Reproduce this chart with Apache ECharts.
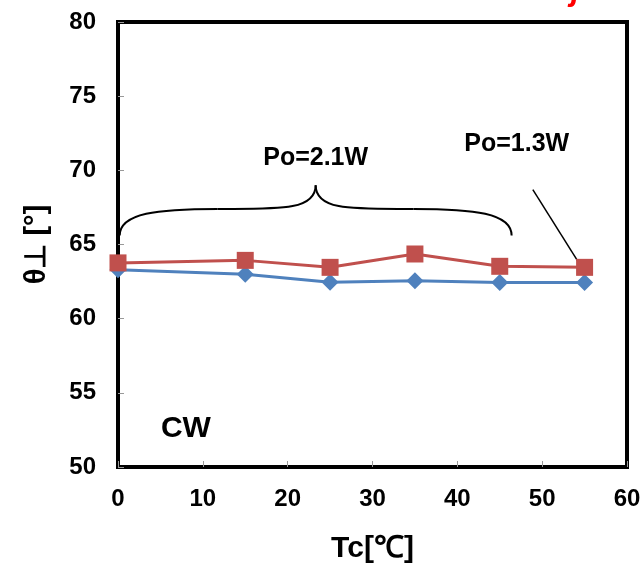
<!DOCTYPE html>
<html>
<head>
<meta charset="utf-8">
<script src="https://cdn.jsdelivr.net/npm/echarts@6/dist/echarts.min.js"></script>
<style>html,body{margin:0;padding:0;background:#fff}#c{width:644px;height:568px}</style>
</head>
<body>
<div id="c"></div>
<script>
const tcValues = [0, 15, 25, 35, 45, 55];
const redSeries = [63.76, 63.93, 63.46, 64.36, 63.53, 63.46];
const blueSeries = [63.3, 63.0, 62.45, 62.55, 62.43, 62.43];
const xTicks = [0, 10, 20, 30, 40, 50, 60];
const yTicks = [50, 55, 60, 65, 70, 75, 80];

const chart = echarts.init(document.getElementById('c'), null, {renderer: 'canvas'});
const font = 'Liberation Sans, Arial, sans-serif';
chart.setOption({
  animation: false,
  grid: {left: 118, right: 17, top: 22, bottom: 101, outerBoundsMode: 'none', containLabel: false, show: true, borderColor: '#000', borderWidth: 4, backgroundColor: 'transparent'},
  xAxis: {
    type: 'value', min: xTicks[0], max: xTicks[xTicks.length-1], interval: 10,
    axisLine: {show: false},
    axisTick: {show: true, inside: true, length: 6, lineStyle: {color: '#999', width: 1}},
    splitLine: {show: false},
    axisLabel: {margin: 20, fontSize: 24, fontWeight: 'bold', color: '#000', fontFamily: font},
    name: 'Tc[℃]', nameLocation: 'middle', nameGap: 67,
    nameTextStyle: {fontSize: 30, fontWeight: 'bold', color: '#000', fontFamily: font}
  },
  yAxis: {
    type: 'value', min: yTicks[0], max: yTicks[yTicks.length-1], interval: 5,
    axisLine: {show: false},
    axisTick: {show: true, inside: true, length: 6, lineStyle: {color: '#999', width: 1}},
    splitLine: {show: false},
    axisLabel: {margin: 22, fontSize: 24, fontWeight: 'bold', color: '#000', fontFamily: font},
    name: 'θ⊥ [°]', nameLocation: 'middle', nameGap: 67, nameRotate: 90,
    nameTextStyle: {fontSize: 29, fontWeight: 'bold', color: '#000', fontFamily: font}
  },
  series: [
    {type: 'line', data: tcValues.map((x,i)=>[x, blueSeries[i]]), symbol: 'diamond', symbolSize: 17,
     itemStyle: {color: '#4F81BD'}, lineStyle: {color: '#4F81BD', width: 3}, z: 3},
    {type: 'line', data: tcValues.map((x,i)=>[x, redSeries[i]]), symbol: 'rect', symbolSize: 17,
     itemStyle: {color: '#C0504D'}, lineStyle: {color: '#C0504D', width: 3}, z: 4}
  ]
});

function px(x, y) { return chart.convertToPixel({gridIndex: 0}, [x, y]); }
const bL = px(0.2, 65.6), bR = px(46.4, 65.6), bTip = px(23.3, 69.0);
const bMidY = px(0, 67.4)[1];
const lnA = px(48.9, 68.7), lnB = px(54.4, 63.7);
const t21 = px(23.3, 70.8), t13 = px(47, 71.8), tcw = px(8, 52.6);
const bl = bL[0], br = bR[0], by = bL[1], tx = bTip[0], ty = bTip[1];
function bz(x1,y1,c1x,c1y,c2x,c2y,x2,y2){
  return {type: 'bezierCurve', shape: {x1:x1,y1:y1,cpx1:c1x,cpy1:c1y,cpx2:c2x,cpy2:c2y,x2:x2,y2:y2}, style: {fill: null, stroke: '#000', lineWidth: 2}};
}
const hl = (bl+tx)/2, hr = (tx+br)/2;
chart.setOption({
  graphic: [
    bz(bl, by, bl, bMidY+4, hl-60, bMidY, hl, bMidY),
    bz(hl, bMidY, hl+60, bMidY, tx, bMidY+2, tx, ty),
    bz(tx, ty, tx, bMidY+2, hr-60, bMidY, hr, bMidY),
    bz(hr, bMidY, hr+60, bMidY, br, bMidY+4, br, by),
    {type: 'line', shape: {x1: lnA[0], y1: lnA[1], x2: lnB[0], y2: lnB[1]}, style: {stroke: '#000', lineWidth: 1.5}},
    {type: 'text', x: t21[0], y: t21[1], style: {text: 'Po=2.1W', font: 'bold 25px ' + font, fill: '#000', textAlign: 'center', textVerticalAlign: 'middle'}},
    {type: 'text', x: t13[0], y: t13[1], style: {text: 'Po=1.3W', font: 'bold 25px ' + font, fill: '#000', textAlign: 'center', textVerticalAlign: 'middle'}},
    {type: 'text', x: tcw[0], y: tcw[1], style: {text: 'CW', font: 'bold 30px ' + font, fill: '#000', textAlign: 'center', textVerticalAlign: 'middle'}},
    {type: 'text', x: 530, y: 7, style: {text: 'Rejection', font: 'italic bold 32px ' + font, fill: '#FF0000', textAlign: 'left', textVerticalAlign: 'bottom'}}
  ]
});
</script>
</body>
</html>
